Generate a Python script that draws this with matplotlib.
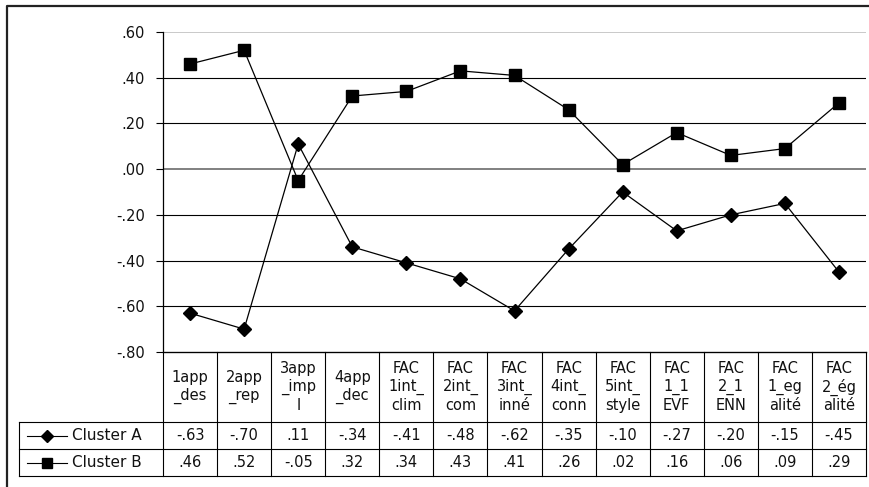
"""
Cluster profile line chart with an Excel-style data table underneath
"""
import matplotlib
matplotlib.use('Agg')
import matplotlib.pyplot as plt
from matplotlib.lines import Line2D

# Data
categories = ['1app\n_des', '2app\n_rep', '3app\n_imp\nl', '4app\n_dec',
              'FAC\n1int_\nclim', 'FAC\n2int_\ncom', 'FAC\n3int_\ninné',
              'FAC\n4int_\nconn', 'FAC\n5int_\nstyle', 'FAC\n1_1\nEVF',
              'FAC\n2_1\nENN', 'FAC\n1_eg\nalité', 'FAC\n2_ég\nalité']
cluster_a = [-0.63, -0.70, 0.11, -0.34, -0.41, -0.48, -0.62, -0.35, -0.10, -0.27, -0.20, -0.15, -0.45]
cluster_b = [0.46, 0.52, -0.05, 0.32, 0.34, 0.43, 0.41, 0.26, 0.02, 0.16, 0.06, 0.09, 0.29]
series_names = ['Cluster A', 'Cluster B']
y_ticks = [0.60, 0.40, 0.20, 0.00, -0.20, -0.40, -0.60, -0.80]

plt.rcParams['font.family'] = ['DejaVu Sans']


def fmt(v):
    """Excel-like '.00' format without leading zero"""
    s = f'{v:.2f}'
    return s.replace('0.', '.', 1)


W, H = 869, 487
fig = plt.figure(figsize=(W / 100, H / 100), dpi=100)

# pixel layout
px_left, px_right = 163, 866
px_top, px_bottom = 32, 352
row_bounds = [352, 422, 449, 476]
legend_left = 19

# main plot
ax = fig.add_axes([px_left / W, 1 - px_bottom / H,
                   (px_right - px_left) / W, (px_bottom - px_top) / H])
n = len(categories)
x = list(range(n))
ax.set_xlim(-0.5, n - 0.5)
ax.set_ylim(min(y_ticks), max(y_ticks))
for t in y_ticks:
    if t == max(y_ticks):
        ax.axhline(t, color='#c0c0c0', lw=1.2, zorder=1)
    elif t == 0:
        ax.axhline(t, color='#808080', lw=1.4, zorder=1)
    elif t != min(y_ticks):
        ax.axhline(t, color='black', lw=0.8, zorder=1)

ax.plot(x, cluster_a, color='black', lw=0.9, marker='D', markersize=7.5, zorder=3)
ax.plot(x, cluster_b, color='black', lw=0.9, marker='s', markersize=8.5, zorder=3)

ax.set_yticks(y_ticks)
ax.set_yticklabels([fmt(t) for t in y_ticks], fontsize=10.5, color='#111111')
ax.tick_params(axis='y', length=5, width=0.8, pad=8)
ax.set_xticks([])
for side in ['top', 'right']:
    ax.spines[side].set_visible(False)
ax.spines['left'].set_linewidth(0.9)
ax.spines['bottom'].set_linewidth(0.9)
ax.patch.set_alpha(0)

# overlay axes in pixel coordinates for table and frame
ov = fig.add_axes([0, 0, 1, 1])
ov.set_xlim(0, W)
ov.set_ylim(H, 0)
ov.axis('off')
ov.patch.set_alpha(0)

# outer frame (clipped at right/bottom like the reference)
ov.plot([7, 7, W + 5], [H + 5, 6, 6], color='#222222', lw=1.6)

col_w = (px_right - px_left) / n
lc = 'black'
lw = 0.8

# horizontal lines of the table
ov.plot([px_left, px_right], [row_bounds[0], row_bounds[0]], color=lc, lw=lw)
for yb in row_bounds[1:]:
    ov.plot([legend_left, px_right], [yb, yb], color=lc, lw=lw)
# vertical lines
for k in range(n + 1):
    xb = px_left + k * col_w
    ov.plot([xb, xb], [row_bounds[0], row_bounds[-1]], color=lc, lw=lw)
ov.plot([legend_left, legend_left], [row_bounds[1], row_bounds[-1]], color=lc, lw=lw)

# header labels
for i, lab in enumerate(categories):
    cx = px_left + (i + 0.5) * col_w
    cy = (row_bounds[0] + row_bounds[1]) / 2
    ov.text(cx, cy, lab, ha='center', va='center', fontsize=10.5,
            linespacing=1.2, color='#111111')

# values rows
markers = ['D', 's']
msizes = [6, 6.5]
for r, (name, vals) in enumerate(zip(series_names, [cluster_a, cluster_b])):
    cy = (row_bounds[r + 1] + row_bounds[r + 2]) / 2
    for i, v in enumerate(vals):
        cx = px_left + (i + 0.5) * col_w
        ov.text(cx, cy, fmt(v), ha='center', va='center', fontsize=10.5,
                color='#111111')
    ov.add_line(Line2D([27, 67], [cy, cy], color='black', lw=0.8))
    ov.plot([47], [cy], marker=markers[r], markersize=msizes[r], color='black')
    ov.text(72, cy, name, ha='left', va='center', fontsize=11, color='#111111')

plt.savefig('out.png', dpi=100)
plt.close()
